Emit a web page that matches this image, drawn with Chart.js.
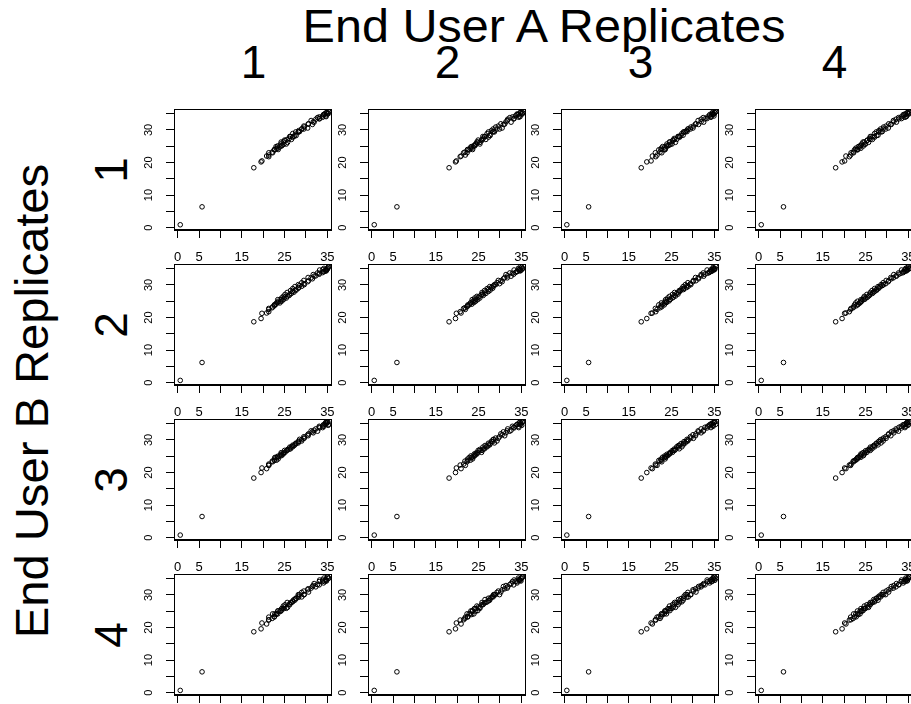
<!DOCTYPE html>
<html>
<head>
<meta charset="utf-8">
<script src="https://cdn.jsdelivr.net/npm/chart.js@4.4.1/dist/chart.umd.min.js"></script>
<style>
  html, body { margin: 0; padding: 0; background: #fff; }
  body { width: 911px; height: 704px; overflow: hidden; position: relative; font-family: "Liberation Sans", Arial, sans-serif; }
  .panel { position: absolute; }
  .lbl { position: absolute; font-size: 46px; line-height: 46px; color: #000; white-space: nowrap; text-align: center; }
</style>
</head>
<body>
<script>
// texte et graduations
const titleA = 'End User A Replicates';
const titleB = 'End User B Replicates';
const replicates = ['1', '2', '3', '4'];
const xTicks = [0, 5, 10, 15, 20, 25, 30, 35];
const xTickLabels = ['0', '5', '', '15', '', '25', '', '35'];
const yTicks = [0, 5, 10, 15, 20, 25, 30, 35];
const yTickLabels = ['0', '', '10', '', '20', '', '30', ''];

// valeurs mesurées, un tableau par réplicat (même ordre d'échantillons)
const userA1 = [0.6, 5.7, 17.8, 19.5, 19.7, 20.8, 21.3, 21.3, 21.3, 22.1, 22.6, 22.2, 22.6, 23.1, 22.7, 23.0, 23.5, 23.9, 23.4, 23.4, 24.1, 24.4, 24.3, 24.2, 24.8, 24.7, 25.4, 25.0, 25.1, 25.7, 26.1, 25.6, 26.2, 26.6, 26.4, 27.2, 26.9, 26.9, 27.7, 27.6, 27.4, 28.2, 28.3, 28.2, 29.0, 28.5, 29.0, 29.6, 29.5, 29.5, 30.4, 30.6, 30.5, 31.5, 31.2, 31.7, 32.3, 31.9, 32.7, 33.1, 33.1, 33.2, 34.1, 33.9, 33.9, 34.4, 34.7, 34.2, 34.8, 34.6, 35.2, 34.7, 35.0, 35.3, 35.1];
const userA2 = [0.6, 5.9, 18.1, 19.6, 19.8, 20.9, 20.7, 21.5, 21.9, 21.8, 22.5, 22.3, 22.4, 23.1, 22.8, 23.4, 23.6, 23.2, 23.9, 23.5, 24.3, 24.0, 24.1, 24.8, 24.4, 24.6, 25.3, 24.9, 25.7, 25.3, 26.1, 25.8, 26.0, 26.7, 26.4, 26.5, 27.3, 27.0, 27.7, 27.3, 27.6, 28.3, 28.0, 28.7, 28.4, 28.5, 29.3, 29.0, 29.9, 29.6, 30.5, 30.2, 31.1, 30.8, 31.7, 31.4, 31.8, 32.6, 32.3, 33.2, 32.9, 33.3, 34.0, 33.6, 34.4, 34.0, 34.7, 34.3, 34.9, 34.5, 35.1, 34.7, 35.2, 34.9, 35.3];
const userA3 = [0.5, 5.6, 17.9, 19.2, 20.2, 20.5, 21.3, 21.2, 21.6, 22.3, 22.0, 22.7, 22.5, 22.6, 23.3, 22.9, 23.5, 23.4, 23.8, 23.6, 23.9, 24.4, 24.1, 24.6, 24.7, 24.5, 25.1, 25.4, 25.2, 25.9, 25.6, 25.7, 26.5, 26.2, 26.8, 26.6, 26.9, 27.4, 27.2, 27.8, 27.7, 27.9, 28.5, 28.2, 28.9, 28.6, 28.8, 29.5, 29.4, 30.1, 30.0, 30.7, 30.6, 31.3, 31.2, 31.9, 31.9, 32.5, 32.4, 32.8, 33.4, 33.3, 33.9, 33.8, 34.2, 34.4, 34.2, 34.7, 34.5, 34.9, 34.7, 35.1, 34.9, 35.3, 35.1];
const userA4 = [0.6, 5.8, 18.0, 19.5, 20.1, 20.4, 21.2, 21.6, 21.5, 22.1, 22.4, 22.2, 22.8, 22.7, 23.1, 23.3, 23.1, 23.7, 23.7, 23.9, 24.1, 23.9, 24.5, 24.4, 24.8, 24.7, 25.0, 25.4, 25.3, 25.7, 25.9, 26.1, 26.1, 26.6, 26.5, 26.9, 27.1, 27.1, 27.6, 27.5, 27.9, 28.1, 28.1, 28.6, 28.5, 28.9, 29.1, 29.2, 29.7, 29.8, 30.3, 30.4, 30.9, 31.0, 31.5, 31.6, 32.1, 32.2, 32.7, 32.8, 33.3, 33.4, 33.8, 33.8, 34.2, 34.2, 34.5, 34.4, 34.7, 34.6, 34.9, 34.8, 35.1, 35.0, 35.3];
const userB1 = [0.9, 6.4, 18.4, 20.2, 20.5, 22.0, 21.8, 23.0, 22.3, 23.2, 23.9, 23.0, 24.0, 24.4, 23.9, 24.9, 24.0, 24.8, 25.1, 24.4, 25.7, 25.3, 25.1, 26.3, 25.6, 26.3, 25.7, 26.9, 26.7, 26.2, 27.4, 27.1, 28.0, 27.1, 28.0, 28.0, 27.8, 28.9, 28.3, 29.4, 28.4, 29.4, 29.8, 29.4, 30.3, 29.5, 30.3, 30.9, 30.3, 31.2, 30.6, 31.9, 31.8, 31.7, 32.9, 32.5, 33.3, 32.4, 33.8, 33.4, 34.0, 33.5, 34.7, 34.3, 33.9, 34.9, 34.1, 34.8, 35.3, 34.3, 35.0, 35.3, 34.9, 35.6, 35.3];
const userB2 = [0.7, 6.2, 18.7, 19.7, 21.3, 21.4, 21.8, 22.8, 22.5, 23.0, 23.9, 23.3, 23.6, 24.5, 23.9, 24.1, 25.0, 24.5, 24.6, 25.5, 25.0, 25.1, 26.0, 25.5, 25.6, 26.5, 26.0, 26.2, 27.1, 26.6, 26.8, 27.7, 27.2, 27.4, 28.3, 27.8, 28.0, 28.9, 28.4, 28.6, 29.5, 29.0, 29.2, 30.1, 29.6, 29.8, 30.7, 30.1, 30.4, 31.4, 31.0, 31.3, 32.3, 31.9, 32.2, 33.2, 32.8, 32.7, 33.7, 33.3, 33.6, 34.6, 34.1, 33.8, 34.7, 34.2, 34.3, 35.1, 34.5, 34.6, 35.4, 34.8, 34.9, 35.7, 35.1];
const userB3 = [0.8, 6.5, 18.3, 20.0, 21.4, 21.2, 22.3, 22.6, 22.2, 23.5, 23.7, 23.3, 24.1, 23.8, 24.6, 24.7, 24.2, 25.1, 25.0, 24.7, 25.6, 25.7, 25.2, 26.1, 26.0, 25.7, 26.7, 26.8, 26.2, 27.1, 27.2, 26.8, 27.8, 27.9, 27.3, 28.3, 28.4, 27.9, 28.9, 29.0, 28.5, 29.5, 29.6, 29.1, 30.1, 30.2, 29.7, 30.6, 31.0, 30.5, 31.6, 31.9, 31.3, 32.5, 32.8, 32.2, 33.4, 33.0, 32.7, 33.9, 34.2, 33.7, 34.7, 34.3, 33.8, 34.8, 34.9, 34.2, 35.2, 35.3, 34.5, 35.5, 35.4, 34.8, 35.6];
const userB4 = [0.7, 6.4, 18.7, 19.6, 21.4, 21.1, 22.3, 22.4, 23.2, 22.8, 23.3, 24.2, 23.3, 24.2, 24.2, 24.0, 25.1, 25.1, 24.2, 25.1, 25.0, 25.8, 25.8, 25.2, 25.8, 26.6, 25.9, 26.3, 27.0, 26.2, 27.2, 27.7, 27.0, 27.7, 27.6, 28.6, 28.2, 27.9, 28.9, 29.0, 28.4, 29.6, 29.3, 30.1, 29.4, 30.1, 30.8, 30.1, 30.1, 31.2, 31.6, 30.9, 31.9, 32.6, 32.1, 32.9, 32.5, 33.5, 33.2, 33.1, 34.1, 34.6, 33.7, 34.2, 34.6, 34.1, 34.6, 35.2, 34.3, 34.8, 35.2, 34.5, 35.6, 35.1, 35.5];

const userA = [userA1, userA2, userA3, userA4];
const userB = [userB1, userB2, userB3, userB4];

// mise en page (pixels)
const colLeft = [174, 368, 561, 755];
const rowTop = [109, 264, 419, 574];
const boxW = 159, boxH = 121;
const padL = 40, padR = 14, padT = 20, padB = 45;

function addLabel(text, cx, cy, rotate, stretch) {
    const d = document.createElement('div');
    d.className = 'lbl';
    d.textContent = text;
    const w = 600;
    d.style.width = w + 'px';
    d.style.left = (cx - w / 2) + 'px';
    d.style.top = (cy - 23) + 'px';
    d.style.transform = (rotate ? 'rotate(-90deg) ' : '') + 'scaleX(' + (stretch || 1) + ')';
    document.body.appendChild(d);
}

const frame = {
    id: 'frame',
    afterDatasetsDraw(chart) {
        const a = chart.chartArea;
        const ctx = chart.ctx;
        ctx.save();
        ctx.strokeStyle = '#000';
        ctx.lineWidth = 1;
        ctx.strokeRect(Math.round(a.left) + 0.5, Math.round(a.top) + 0.5, Math.round(a.right - a.left) - 1, Math.round(a.bottom - a.top) - 1);
        ctx.restore();
    }
};

document.addEventListener("DOMContentLoaded", function () {
    addLabel(titleA, (colLeft[1] + colLeft[2] + boxW) / 2, 26, false, 1.055);
    addLabel(titleB, 32, (rowTop[1] + rowTop[2] + boxH) / 2 - 1, true, 1.025);
    replicates.forEach((r, i) => {
        addLabel(r, colLeft[i] + boxW / 2, 62, false);
        addLabel(r, 111, rowTop[i] + boxH / 2, true);
    });

    for (let row = 0; row < 4; row++) {
        for (let col = 0; col < 4; col++) {
            const wrap = document.createElement('div');
            wrap.className = 'panel';
            wrap.style.left = (colLeft[col] - padL) + 'px';
            wrap.style.top = (rowTop[row] - padT) + 'px';
            wrap.style.width = (boxW + padL + padR) + 'px';
            wrap.style.height = (boxH + padT + padB) + 'px';
            const cv = document.createElement('canvas');
            wrap.appendChild(cv);
            document.body.appendChild(wrap);

            const xs = userA[col], ys = userB[row];
            new Chart(cv, {
                type: 'scatter',
                data: {
                    datasets: [{
                        data: xs.map((v, k) => ({ x: v, y: ys[k] })),
                        pointRadius: 2.3,
                        pointBorderWidth: 1,
                        borderColor: '#000',
                        backgroundColor: 'rgba(0,0,0,0)'
                    }]
                },
                options: {
                    responsive: true,
                    maintainAspectRatio: false,
                    animation: false,
                    events: [],
                    layout: { padding: { top: padT, right: padR, left: 0, bottom: 0 } },
                    plugins: { legend: { display: false }, tooltip: { enabled: false } },
                    scales: {
                        x: {
                            type: 'linear',
                            min: -0.86,
                            max: 36.06,
                            afterBuildTicks: s => { s.ticks = xTicks.map(v => ({ value: v })); },
                            afterFit: s => { s.height = padB; },
                            grid: { drawOnChartArea: false, drawTicks: true, tickLength: 8, color: '#000' },
                            border: { display: true, color: '#000' },
                            ticks: {
                                autoSkip: false, maxRotation: 0, minRotation: 0, padding: 12,
                                color: '#000', font: { family: 'Liberation Sans', size: 13 },
                                callback: v => xTickLabels[xTicks.indexOf(v)]
                            }
                        },
                        y: {
                            type: 'linear',
                            min: -0.71,
                            max: 36.44,
                            afterBuildTicks: s => { s.ticks = yTicks.map(v => ({ value: v })); },
                            afterFit: s => { s.width = padL; },
                            grid: { drawOnChartArea: false, drawTicks: true, tickLength: 8, color: '#000' },
                            border: { display: true, color: '#000' },
                            ticks: {
                                autoSkip: false, minRotation: 90, maxRotation: 90, padding: 11,
                                crossAlign: 'center',
                                color: '#000', font: { family: 'Liberation Sans', size: 11 },
                                callback: v => yTickLabels[yTicks.indexOf(v)]
                            }
                        }
                    }
                },
                plugins: [frame]
            });
        }
    }
});
</script>
</body>
</html>
